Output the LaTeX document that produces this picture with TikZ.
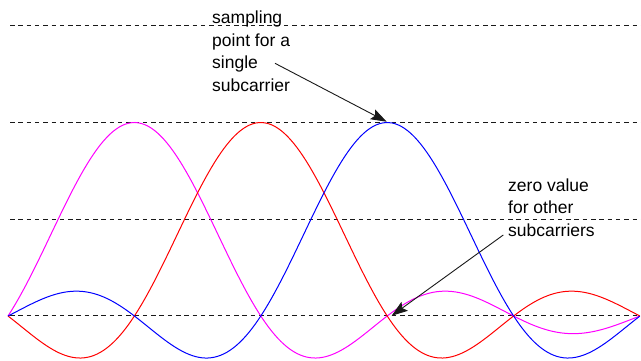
\documentclass[tikz,border=0pt]{standalone}
\usepackage{fontspec}
\setmainfont{Liberation Sans}
\usetikzlibrary{arrows.meta}
\definecolor{wavemag}{RGB}{255,0,255}
\definecolor{wavered}{RGB}{255,0,0}
\definecolor{waveblue}{RGB}{0,0,255}
\begin{document}
\begin{tikzpicture}[x=1pt,y=-1pt,
  guide/.style={black!90, line width=1pt, dash pattern=on 4.5pt off 3.8pt},
  wave/.style={line width=1pt},
  label/.style={font=\fontsize{17.5}{22.6}\selectfont, align=left, inner sep=0pt, anchor=north west, text=black},
  pointer/.style={black!90, line width=0.9pt, -{Stealth[length=16pt,width=11pt,inset=3pt]}},
  declare function={sinc(\u)=sin(180*\u)/(pi*\u);}
]
\useasboundingbox (0,0) rectangle (641,361);
\fill[white] (0,0) rectangle (641,361);
% dashed reference levels
\foreach \yy in {25.5,122.5,219.5,315.5}
  \draw[guide] (10,\yy) -- (641,\yy);
% subcarriers
\draw[wave, wavemag]  plot[domain=-1:4, samples=200] ({134.4+126.4*\x}, {316-193.5*sinc(\x)});
\draw[wave, wavered]  plot[domain=-2:3, samples=200] ({260.8+126.4*\x}, {316-193.5*sinc(\x)});
\draw[wave, waveblue] plot[domain=-3:2, samples=200] ({387.2+126.4*\x}, {316-193.5*sinc(\x)});
% labels
\node[label] (samp) at (212,10.8) {sampling\\point for a\\single\\subcarrier};
\node[label] (zero) at (508,178.2) {zero value\\for other\\subcarriers};
% pointer arrows
\coordinate (s1) at (275,63.3);
\coordinate (peak) at (386.7,121.7);
\coordinate (s2) at (503.3,235);
\coordinate (null) at (391.7,315.7);
\draw[pointer] (s1) -- (peak);
\draw[pointer] (s2) -- (null);
\end{tikzpicture}
\end{document}
